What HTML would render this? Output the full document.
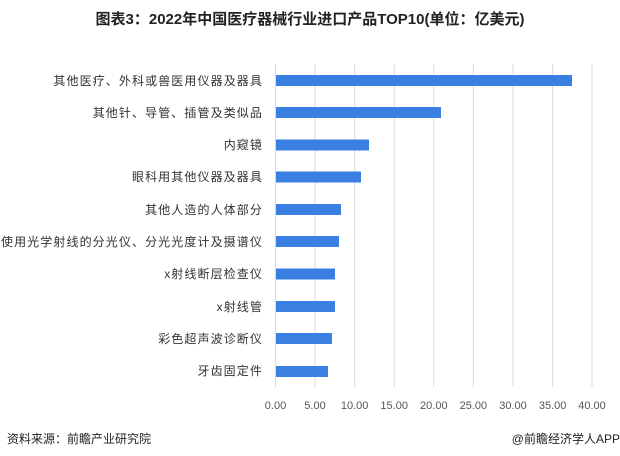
<!DOCTYPE html>
<html><head><meta charset="utf-8"><style>
body{margin:0;width:620px;height:456px;background:#fff;font-family:"Liberation Sans","Noto Sans CJK SC",sans-serif;position:relative;overflow:hidden}
.t{position:absolute;white-space:nowrap}
</style></head><body>
<div class="t" style="left:0;width:620px;top:8px;text-align:center;font-size:15px;font-weight:bold;color:#222">图表3：2022年中国医疗器械行业进口产品TOP10(单位：亿美元)</div>
<svg width="620" height="456" style="position:absolute;left:0;top:0" font-family="Liberation Sans, Noto Sans CJK SC, sans-serif">
<g stroke="#d9d9d9" stroke-width="1">
<line x1="275.5" y1="64" x2="275.5" y2="387"/><line x1="315" y1="64" x2="315" y2="387"/><line x1="354.6" y1="64" x2="354.6" y2="387"/><line x1="394.2" y1="64" x2="394.2" y2="387"/><line x1="433.8" y1="64" x2="433.8" y2="387"/><line x1="473.4" y1="64" x2="473.4" y2="387"/><line x1="513" y1="64" x2="513" y2="387"/><line x1="552.6" y1="64" x2="552.6" y2="387"/><line x1="592" y1="64" x2="592" y2="387"/>
</g>
<g fill="#3a80e3">
<rect x="276" y="75" width="296" height="11"/>
<rect x="276" y="107" width="165" height="11"/>
<rect x="276" y="139.5" width="93" height="11"/>
<rect x="276" y="171.5" width="85" height="11"/>
<rect x="276" y="204" width="65" height="11"/>
<rect x="276" y="236" width="63" height="11"/>
<rect x="276" y="268.5" width="59" height="11"/>
<rect x="276" y="301" width="59" height="11"/>
<rect x="276" y="333" width="56" height="11"/>
<rect x="276" y="366" width="52" height="11"/>
</g>
<g font-size="12" fill="#333" text-anchor="end" letter-spacing="1.1">
<text x="263" y="85">其他医疗、外科或兽医用仪器及器具</text>
<text x="263" y="117">其他针、导管、插管及类似品</text>
<text x="263" y="149">内窥镜</text>
<text x="263" y="181">眼科用其他仪器及器具</text>
<text x="263" y="214">其他人造的人体部分</text>
<text x="263" y="246">使用光学射线的分光仪、分光光度计及摄谱仪</text>
<text x="263" y="278">x射线断层检查仪</text>
<text x="263" y="311">x射线管</text>
<text x="263" y="343">彩色超声波诊断仪</text>
<text x="263" y="375">牙齿固定件</text>
</g>
<g font-size="11" fill="#555" text-anchor="middle">
<text x="275.5" y="409">0.00</text><text x="315" y="409">5.00</text><text x="354.6" y="409">10.00</text><text x="394.2" y="409">15.00</text><text x="433.8" y="409">20.00</text><text x="473.4" y="409">25.00</text><text x="513" y="409">30.00</text><text x="552.6" y="409">35.00</text><text x="592" y="409">40.00</text>
</g>
</svg>
<div class="t" style="left:7px;top:430px;font-size:12px;color:#222">资料来源：前瞻产业研究院</div>
<div class="t" style="right:0;top:430px;font-size:12px;color:#222">@前瞻经济学人APP</div>
</body></html>
